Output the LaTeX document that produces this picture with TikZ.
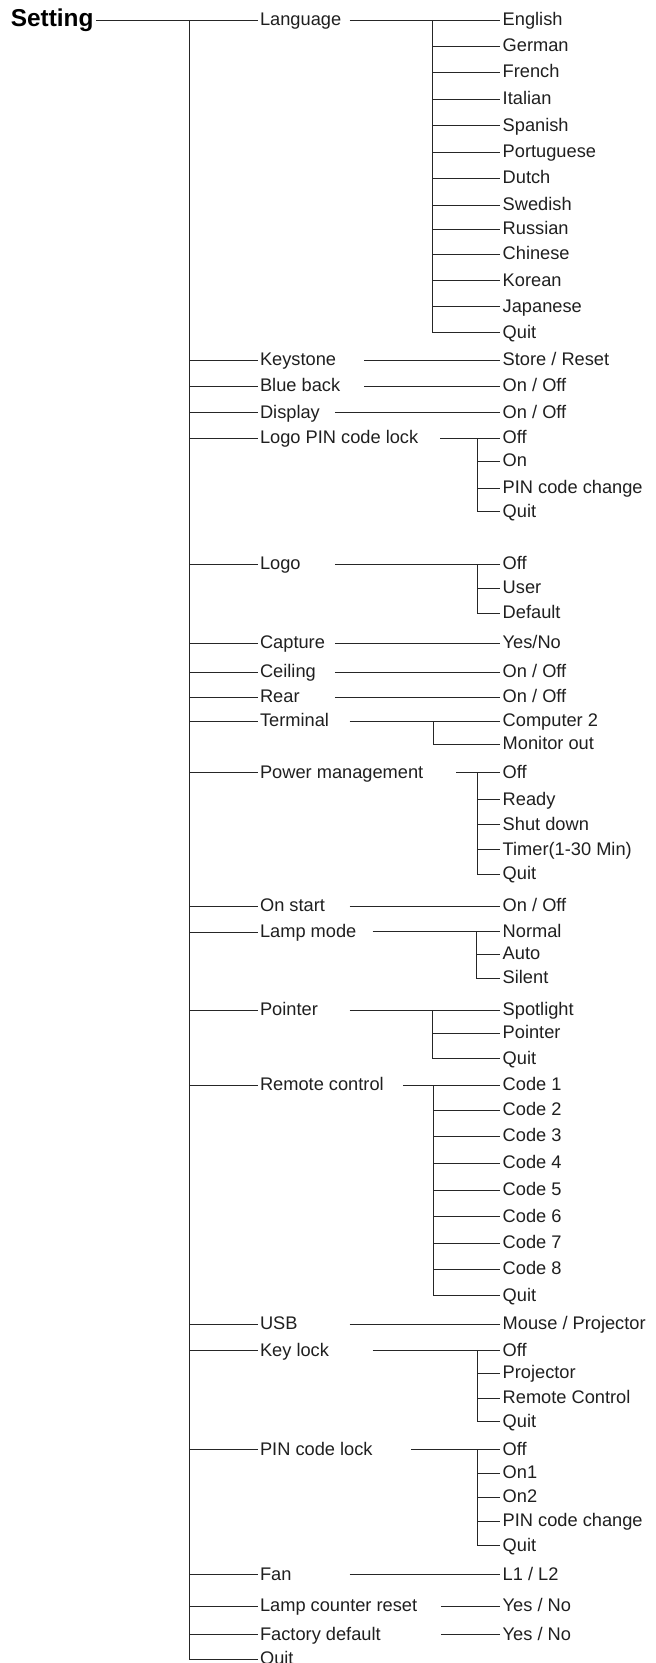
\documentclass[tikz,border=0pt]{standalone}
\usepackage{fontspec}
\setmainfont{Liberation Sans}
\newcommand\lblfont{\fontsize{17.2}{20}\selectfont}
\newcommand\ttlfont{\fontsize{23}{26}\selectfont\bfseries}
\tikzset{
  lbl/.style={font=\lblfont, anchor=west, inner xsep=2pt, inner ysep=0pt, text height=10pt, text depth=0pt, text=black!88},
  ttl/.style={font=\ttlfont, anchor=west, inner xsep=2pt, inner ysep=0pt, text height=11pt, text depth=0pt, text=black},
  conn/.style={draw=black!85, line width=0.9pt}
}
\begin{document}
\begin{tikzpicture}[x=1pt, y=-1pt]
\useasboundingbox (0,0) rectangle (618,1568);
% root
\node[ttl] (setting) at (8,19.5) {Setting};
\coordinate (trunk) at (178.8,19.5);
% level 1
\node[lbl] (lang) at (243,19.5) {Language};
\node[lbl] (keys) at (243,339.6) {Keystone};
\node[lbl] (blue) at (243,364.2) {Blue back};
\node[lbl] (disp) at (243,389.3) {Display};
\node[lbl] (lpin) at (243,413.5) {Logo PIN code lock};
\node[lbl] (logo) at (243,532.1) {Logo};
\node[lbl] (capt) at (243,606.3) {Capture};
\node[lbl] (ceil) at (243,634) {Ceiling};
\node[lbl] (rear) at (243,657.2) {Rear};
\node[lbl] (term) at (243,680.2) {Terminal};
\node[lbl] (powr) at (243,728.6) {Power management};
\node[lbl] (onst) at (243,854.7) {On start};
\node[lbl] (lamp) at (243,879.3) {Lamp mode};
\node[lbl] (pntr) at (243,952.8) {Pointer};
\node[lbl] (remo) at (243,1023.6) {Remote control};
\node[lbl] (usb) at (243,1248.4) {USB};
\node[lbl] (keyl) at (243,1273.6) {Key lock};
\node[lbl] (pinl) at (243,1367) {PIN code lock};
\node[lbl] (fan) at (243,1484.9) {Fan};
\node[lbl] (lcnt) at (243,1514.8) {Lamp counter reset};
\node[lbl] (fact) at (243,1541.5) {Factory default};
\node[lbl] (quit) at (243,1564.5) {Quit};
% trunk connectors
\draw[conn] (setting.east) -- (lang.west);
\foreach \n in {keys,blue,disp,lpin,logo,capt,ceil,rear,term,powr,onst,lamp,pntr,remo,usb,keyl,pinl,fan,lcnt,fact,quit}
  \draw[conn] (trunk) |- (\n.west);
% ---- Language
\coordinate (langout) at (329.6,19.5);
\coordinate (langj) at (407.8,19.5);
\node[lbl] (la1) at (471.8,19.5) {English};
\node[lbl] (la2) at (471.8,43.4) {German};
\node[lbl] (la3) at (471.8,68.2) {French};
\node[lbl] (la4) at (471.8,93.4) {Italian};
\node[lbl] (la5) at (471.8,118.6) {Spanish};
\node[lbl] (la6) at (471.8,143.7) {Portuguese};
\node[lbl] (la7) at (471.8,168.2) {Dutch};
\node[lbl] (la8) at (471.8,193.4) {Swedish};
\node[lbl] (la9) at (471.8,216.4) {Russian};
\node[lbl] (la10) at (471.8,239.6) {Chinese};
\node[lbl] (la11) at (471.8,264.8) {Korean};
\node[lbl] (la12) at (471.8,289.3) {Japanese};
\node[lbl] (la13) at (471.8,313.8) {Quit};
\draw[conn] (langout) -- (la1.west);
\foreach \n in {la2,la3,la4,la5,la6,la7,la8,la9,la10,la11,la12,la13}
  \draw[conn] (langj) |- (\n.west);
% ---- single-child items
\coordinate (keysout) at (343.5,339.6);
\node[lbl] (keysv) at (471.8,339.6) {Store / Reset};
\draw[conn] (keysout) -- (keysv.west);
\coordinate (blueout) at (343.5,364.2);
\node[lbl] (bluev) at (471.8,364.2) {On / Off};
\draw[conn] (blueout) -- (bluev.west);
\coordinate (dispout) at (315.8,389.3);
\node[lbl] (dispv) at (471.8,389.3) {On / Off};
\draw[conn] (dispout) -- (dispv.west);
% ---- Logo PIN code lock
\coordinate (lpinout) at (415.3,413.5);
\coordinate (lpinj) at (450,413.5);
\node[lbl] (lp1) at (471.8,413.5) {Off};
\node[lbl] (lp2) at (471.8,434.9) {On};
\node[lbl] (lp3) at (471.8,460.1) {PIN code change};
\node[lbl] (lp4) at (471.8,482.7) {Quit};
\draw[conn] (lpinout) -- (lp1.west);
\foreach \n in {lp2,lp3,lp4} \draw[conn] (lpinj) |- (\n.west);
% ---- Logo
\coordinate (logoout) at (315.8,532.1);
\coordinate (logoj) at (450,532.1);
\node[lbl] (lo1) at (471.8,532.1) {Off};
\node[lbl] (lo2) at (471.8,554.4) {User};
\node[lbl] (lo3) at (471.8,578.6) {Default};
\draw[conn] (logoout) -- (lo1.west);
\foreach \n in {lo2,lo3} \draw[conn] (logoj) |- (\n.west);
% ---- Capture, Ceiling, Rear
\coordinate (captout) at (315.8,606.3);
\node[lbl] (captv) at (471.8,606.3) {Yes/No};
\draw[conn] (captout) -- (captv.west);
\coordinate (ceilout) at (315.8,634);
\node[lbl] (ceilv) at (471.8,634) {On / Off};
\draw[conn] (ceilout) -- (ceilv.west);
\coordinate (rearout) at (315.8,657.2);
\node[lbl] (rearv) at (471.8,657.2) {On / Off};
\draw[conn] (rearout) -- (rearv.west);
% ---- Terminal
\coordinate (termout) at (329.6,680.2);
\coordinate (termj) at (408.6,680.2);
\node[lbl] (te1) at (471.8,680.2) {Computer 2};
\node[lbl] (te2) at (471.8,701.6) {Monitor out};
\draw[conn] (termout) -- (te1.west);
\draw[conn] (termj) |- (te2.west);
% ---- Power management
\coordinate (powrout) at (430.3,728.6);
\coordinate (powrj) at (450,728.6);
\node[lbl] (pw1) at (471.8,728.6) {Off};
\node[lbl] (pw2) at (471.8,754.1) {Ready};
\node[lbl] (pw3) at (471.8,777.7) {Shut down};
\node[lbl] (pw4) at (471.8,801.3) {Timer(1-30 Min)};
\node[lbl] (pw5) at (471.8,824.5) {Quit};
\draw[conn] (powrout) -- (pw1.west);
\foreach \n in {pw2,pw3,pw4,pw5} \draw[conn] (powrj) |- (\n.west);
% ---- On start
\coordinate (onstout) at (329.6,854.7);
\node[lbl] (onstv) at (471.8,854.7) {On / Off};
\draw[conn] (onstout) -- (onstv.west);
% ---- Lamp mode
\coordinate (lampout) at (351.4,878.5);
\coordinate (lampj) at (449.7,878.5);
\node[lbl] (lm1) at (471.8,878.5) {Normal};
\node[lbl] (lm2) at (471.8,900) {Auto};
\node[lbl] (lm3) at (471.8,922.5) {Silent};
\draw[conn] (lampout) -- (lm1.west);
\foreach \n in {lm2,lm3} \draw[conn] (lampj) |- (\n.west);
% ---- Pointer
\coordinate (pntrout) at (329.6,952.8);
\coordinate (pntrj) at (408,952.8);
\node[lbl] (pt1) at (471.8,952.8) {Spotlight};
\node[lbl] (pt2) at (471.8,974.5) {Pointer};
\node[lbl] (pt3) at (471.8,998.4) {Quit};
\draw[conn] (pntrout) -- (pt1.west);
\foreach \n in {pt2,pt3} \draw[conn] (pntrj) |- (\n.west);
% ---- Remote control
\coordinate (remoout) at (379.8,1023.6);
\coordinate (remoj) at (408.6,1023.6);
\node[lbl] (rc1) at (471.8,1023.6) {Code 1};
\node[lbl] (rc2) at (471.8,1047.2) {Code 2};
\node[lbl] (rc3) at (471.8,1071.7) {Code 3};
\node[lbl] (rc4) at (471.8,1096.9) {Code 4};
\node[lbl] (rc5) at (471.8,1122) {Code 5};
\node[lbl] (rc6) at (471.8,1147.2) {Code 6};
\node[lbl] (rc7) at (471.8,1172) {Code 7};
\node[lbl] (rc8) at (471.8,1196.9) {Code 8};
\node[lbl] (rc9) at (471.8,1221.7) {Quit};
\draw[conn] (remoout) -- (rc1.west);
\foreach \n in {rc2,rc3,rc4,rc5,rc6,rc7,rc8,rc9} \draw[conn] (remoj) |- (\n.west);
% ---- USB
\coordinate (usbout) at (329.6,1248.4);
\node[lbl] (usbv) at (471.8,1248.4) {Mouse / Projector};
\draw[conn] (usbout) -- (usbv.west);
% ---- Key lock
\coordinate (keylout) at (351.4,1273.6);
\coordinate (keylj) at (450,1273.6);
\node[lbl] (kl1) at (471.8,1273.6) {Off};
\node[lbl] (kl2) at (471.8,1295) {Projector};
\node[lbl] (kl3) at (471.8,1318.2) {Remote Control};
\node[lbl] (kl4) at (471.8,1340.6) {Quit};
\draw[conn] (keylout) -- (kl1.west);
\foreach \n in {kl2,kl3,kl4} \draw[conn] (keylj) |- (\n.west);
% ---- PIN code lock
\coordinate (pinlout) at (387.7,1367);
\coordinate (pinlj) at (450,1367);
\node[lbl] (pl1) at (471.8,1367) {Off};
\node[lbl] (pl2) at (471.8,1389.3) {On1};
\node[lbl] (pl3) at (471.8,1412) {On2};
\node[lbl] (pl4) at (471.8,1434.6) {PIN code change};
\node[lbl] (pl5) at (471.8,1457.5) {Quit};
\draw[conn] (pinlout) -- (pl1.west);
\foreach \n in {pl2,pl3,pl4,pl5} \draw[conn] (pinlj) |- (\n.west);
% ---- Fan, Lamp counter reset, Factory default
\coordinate (fanout) at (329.6,1484.9);
\node[lbl] (fanv) at (471.8,1484.9) {L1 / L2};
\draw[conn] (fanout) -- (fanv.west);
\coordinate (lcntout) at (415.7,1514.8);
\node[lbl] (lcntv) at (471.8,1514.8) {Yes / No};
\draw[conn] (lcntout) -- (lcntv.west);
\coordinate (factout) at (415.7,1541.5);
\node[lbl] (factv) at (471.8,1541.5) {Yes / No};
\draw[conn] (factout) -- (factv.west);
\end{tikzpicture}
\end{document}
